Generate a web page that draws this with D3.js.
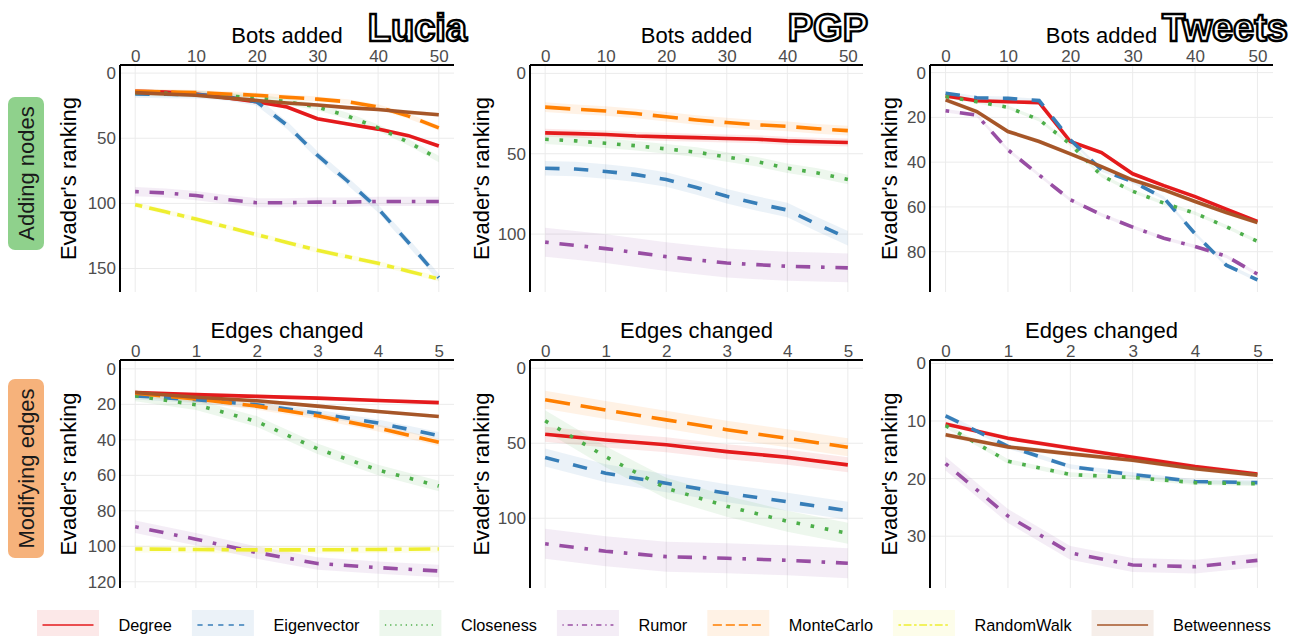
<!DOCTYPE html>
<html>
<head>
<meta charset="utf-8">
<script src="https://cdn.jsdelivr.net/npm/d3@7"></script>
<style>
  body { margin: 0; background: #fff; }
  svg { font-family: "Liberation Sans", Arial, sans-serif; }
</style>
</head>
<body>
<script>
// methods and colours (ggplot Set1 style)
var methods = ["Degree", "Eigenvector", "Closeness", "Rumor", "MonteCarlo", "RandomWalk", "Betweenness"];
var colors = ["#e41a1c", "#377eb8", "#4daf4a", "#984ea3", "#ff7f00", "#eeee30", "#a65628"];
// R line types: solid, dashed, dotted, dotdash, longdash, twodash, solid
var ltys = [[], [4, 4], [1, 3], [1, 3, 4, 3], [7, 3], [2, 2, 6, 2], []];
function dash(k, unit) {
  return ltys[k].length ? ltys[k].map(function(d) { return d * unit; }).join(",") : "none";
}

var botsAdded = [0, 5, 10, 15, 20, 25, 30, 35, 40, 45, 50];
var edgesChanged = [0, 1, 2, 3, 4, 5];

// Adding nodes
var luciaBots = {
  Degree:      [14, 14.5, 16, 19, 22, 26, 35, 39, 43, 48, 56],
  Eigenvector: [16, 16.3, 16.5, 18, 22, 40, 63, 83, 104, 130, 157],
  Closeness:   [15, 15.5, 16, 17.5, 19, 22, 26, 33, 42, 53, 66],
  Rumor:       [91, 92, 94, 97, 99.5, 99.5, 99, 99, 98.5, 98.5, 98.5],
  MonteCarlo:  [14, 14.5, 15, 16, 17, 18.5, 20, 22, 26, 33, 42],
  RandomWalk:  [101, 106.5, 112, 118, 124, 130, 136, 141, 146, 152, 158],
  Betweenness: [15, 16, 17, 19, 21, 23, 24.5, 26.5, 28, 30, 32]
};
var luciaBotsBand = { Degree: 1.5, Eigenvector: 3, Closeness: 2.5, Rumor: 3.5, MonteCarlo: 2, RandomWalk: 2, Betweenness: 1.5 };

var pgpBots = {
  Degree:      [37, 37.5, 38, 39, 39.5, 40, 40.5, 41, 42, 42.5, 43],
  Eigenvector: [59, 59.5, 61, 63, 66, 71, 76.5, 81, 85, 94, 102.5],
  Closeness:   [41, 42, 43.5, 45, 47, 49, 52, 55, 59, 62, 66],
  Rumor:       [105, 107, 109, 111.5, 114, 116, 118, 119, 120, 120.5, 121],
  MonteCarlo:  [21, 22.3, 23.4, 25, 27, 29, 30.6, 32, 33, 34.5, 35.6]
};
var pgpBotsBand = { Degree: 2.5, Eigenvector: 4.5, Closeness: 3, Rumor: 9, MonteCarlo: 3 };

var tweetsBots = {
  Degree:      [10.4, 12.6, 13, 13.4, 30.8, 35.7, 45.2, 50.5, 55.4, 61, 66.5],
  Eigenvector: [9.2, 11.2, 11.5, 12.5, 30, 43.5, 48.7, 56, 72, 86, 92.6],
  Closeness:   [10.7, 13, 15.5, 21, 32, 46, 53, 58.3, 62.8, 68.8, 75.4],
  Rumor:       [17, 19, 34.5, 45.7, 56.8, 63.5, 69, 74, 77.7, 82, 90],
  Betweenness: [12.2, 17.4, 26.3, 30.8, 36.3, 42, 48, 52.4, 57.6, 62.5, 67]
};
var tweetsBotsBand = { Degree: 0.8, Eigenvector: 0.8, Closeness: 0.8, Rumor: 0.8, Betweenness: 1 };

// Modifying edges
var luciaEdges = {
  Degree:      [13.3, 14.5, 15.5, 16.5, 17.8, 19],
  Eigenvector: [15.2, 17.4, 20.2, 25, 30.5, 37.6],
  Closeness:   [15.2, 20.2, 29.6, 45, 57, 66],
  Rumor:       [89, 96, 103.5, 109.7, 112, 113.9],
  MonteCarlo:  [13.7, 17, 21, 26.4, 33.3, 41.4],
  RandomWalk:  [101.5, 101.8, 102, 102, 101.8, 101.5],
  Betweenness: [13.3, 16, 18, 21, 24, 26.8]
};
var luciaEdgesBand = { Degree: 1, Eigenvector: 2, Closeness: 3, Rumor: 3.5, MonteCarlo: 2, RandomWalk: 2, Betweenness: 1 };

var pgpEdges = {
  Degree:      [44, 47.8, 51, 55.6, 59.3, 64.4],
  Eigenvector: [59.5, 70, 76.7, 83.3, 89, 95],
  Closeness:   [35, 59, 80, 92, 102, 110],
  Rumor:       [117, 122, 125.6, 126.7, 128, 130],
  MonteCarlo:  [21, 27.8, 34.4, 41, 46.7, 52.7]
};
var pgpEdgesBand = { Degree: 5, Eigenvector: 6, Closeness: 7, Rumor: 10, MonteCarlo: 6 };

var tweetsEdges = {
  Degree:      [10.5, 13, 14.7, 16.3, 17.9, 19.2],
  Eigenvector: [9.1, 14.4, 17.9, 19.3, 20.5, 20.7],
  Closeness:   [10.8, 17, 19.3, 19.8, 20.7, 20.9],
  Rumor:       [17.4, 26.5, 32.9, 35, 35.3, 34.2],
  Betweenness: [12.4, 14.5, 15.7, 16.8, 18.3, 19.4]
};
var tweetsEdgesBand = { Degree: 0.4, Eigenvector: 0.4, Closeness: 0.4, Rumor: 1.2, Betweenness: 0.4 };

var botTicks = [0, 10, 20, 30, 40, 50];
var edgeTicks = [0, 1, 2, 3, 4, 5];
var datasets = ["Lucia", "PGP", "Tweets"];
var rowLabels = ["Adding nodes", "Modifying edges"];
var rowTitles = ["Bots added", "Edges changed"];

var W = 1297, H = 636;
var colLeft = [120, 530, 930], colRight = [454, 863, 1273];
var rowTop = [65, 360], rowBottom = [292, 588];
var yTitleX = [76, 489, 897];
var titleEnd = [467, 868, 1288];

var panels = [
  { row: 0, col: 0, data: luciaBots, band: luciaBotsBand, yDomain: [-6.2, 168], yTicks: [0, 50, 100, 150] },
  { row: 0, col: 1, data: pgpBots, band: pgpBotsBand, yDomain: [-5.2, 136], yTicks: [0, 50, 100] },
  { row: 0, col: 2, data: tweetsBots, band: tweetsBotsBand, yDomain: [-3.4, 98], yTicks: [0, 20, 40, 60, 80] },
  { row: 1, col: 0, data: luciaEdges, band: luciaEdgesBand, yDomain: [-5, 123.5], yTicks: [0, 20, 40, 60, 80, 100, 120] },
  { row: 1, col: 1, data: pgpEdges, band: pgpEdgesBand, yDomain: [-5.5, 146.5], yTicks: [0, 50, 100] },
  { row: 1, col: 2, data: tweetsEdges, band: tweetsEdgesBand, yDomain: [-0.6, 39], yTicks: [0, 10, 20, 30] }
];

var svg = d3.select("body").append("svg").attr("width", W).attr("height", H);

panels.forEach(function(p) {
  var L = colLeft[p.col], R = colRight[p.col], T = rowTop[p.row], B = rowBottom[p.row];
  var xs = p.row == 0 ? botsAdded : edgesChanged;
  var xTicks = p.row == 0 ? botTicks : edgeTicks;
  var x = d3.scaleLinear()
    .domain(p.row == 0 ? [-2.5, 52.5] : [-0.25, 5.25])
    .range([L, R]);
  var y = d3.scaleLinear().domain(p.yDomain).range([T, B]);
  var g = svg.append("g");

  // grid
  g.selectAll(".gy").data(p.yTicks).enter().append("line")
    .attr("x1", L).attr("x2", R)
    .attr("y1", function(d) { return y(d); }).attr("y2", function(d) { return y(d); })
    .attr("stroke", "#ebebeb").attr("stroke-width", 1);
  g.selectAll(".gx").data(xTicks).enter().append("line")
    .attr("y1", T).attr("y2", B)
    .attr("x1", function(d) { return x(d); }).attr("x2", function(d) { return x(d); })
    .attr("stroke", "#ebebeb").attr("stroke-width", 1);

  // ribbons then lines
  var keys = methods.filter(function(m) { return p.data[m]; });
  keys.forEach(function(m) {
    var k = methods.indexOf(m);
    var vals = p.data[m], b = p.band[m];
    var area = d3.area()
      .x(function(d, i) { return x(xs[i]); })
      .y0(function(d) { return y(d - b); })
      .y1(function(d) { return y(d + b); });
    g.append("path").datum(vals).attr("d", area)
      .attr("fill", colors[k]).attr("fill-opacity", 0.1);
  });
  keys.forEach(function(m) {
    var k = methods.indexOf(m);
    var line = d3.line()
      .x(function(d, i) { return x(xs[i]); })
      .y(function(d) { return y(d); });
    g.append("path").datum(p.data[m]).attr("d", line)
      .attr("fill", "none").attr("stroke", colors[k])
      .attr("stroke-width", 3.6)
      .attr("stroke-dasharray", dash(k, 3.6));
  });

  // axes
  var xAxis = g.append("g").attr("transform", "translate(0," + T + ")")
    .call(d3.axisTop(x).tickValues(xTicks).tickFormat(d3.format("d"))
      .tickSize(0).tickSizeOuter(0).tickPadding(3.5));
  var yAxis = g.append("g").attr("transform", "translate(" + L + ",0)")
    .call(d3.axisLeft(y).tickValues(p.yTicks).tickFormat(d3.format("d"))
      .tickSize(0).tickSizeOuter(0).tickPadding(4));
  [xAxis, yAxis].forEach(function(a) {
    a.select(".domain").attr("stroke", "#000").attr("stroke-width", 2);
    a.selectAll("text").attr("font-size", 17).attr("fill", "#4d4d4d")
      .attr("font-family", "Liberation Sans, Arial, sans-serif");
  });
  xAxis.select(".domain").attr("d", "M" + L + ",0H" + R);
  yAxis.select(".domain").attr("d", "M0," + T + "V" + B);

  // axis titles
  g.append("text").attr("x", (L + R) / 2).attr("y", p.row == 0 ? 43 : 338)
    .attr("text-anchor", "middle").attr("font-size", 22).attr("fill", "#000")
    .text(rowTitles[p.row]);
  g.append("text")
    .attr("transform", "translate(" + yTitleX[p.col] + "," + (T + B) / 2 + ") rotate(-90)")
    .attr("text-anchor", "middle").attr("font-size", 22).attr("fill", "#000")
    .text("Evader's ranking");
});

// dataset titles
datasets.forEach(function(name, i) {
  svg.append("text").attr("x", titleEnd[i]).attr("y", 41)
    .attr("text-anchor", "end").attr("font-size", 38).attr("font-weight", "bold")
    .attr("fill", "#fff").attr("stroke", "#000").attr("stroke-width", 2.4)
    .attr("font-family", "Liberation Sans, Arial, sans-serif")
    .text(name);
});

// row strips
var stripColors = ["#8fd18c", "#f6b27b"];
var stripY = [[97, 250], [379, 558]];
rowLabels.forEach(function(lab, i) {
  svg.append("rect").attr("x", 8).attr("y", stripY[i][0])
    .attr("width", 36).attr("height", stripY[i][1] - stripY[i][0])
    .attr("rx", 7).attr("fill", stripColors[i]);
  svg.append("text")
    .attr("transform", "translate(34," + (stripY[i][0] + stripY[i][1]) / 2 + ") rotate(-90)")
    .attr("text-anchor", "middle").attr("font-size", 22).attr("fill", "#1a1a1a")
    .text(lab);
});

// legend
var lg = svg.append("g");
var lx = 37;
methods.forEach(function(m, k) {
  lg.append("rect").attr("x", lx).attr("y", 610).attr("width", 62).attr("height", 26)
    .attr("fill", colors[k]).attr("fill-opacity", 0.1);
  lg.append("line").attr("x1", lx + 5.5).attr("x2", lx + 56.5).attr("y1", 625).attr("y2", 625)
    .attr("stroke", colors[k]).attr("stroke-width", 1.3)
    .attr("stroke-dasharray", dash(k, 1.3));
  var t = lg.append("text").attr("x", lx + 81.5).attr("y", 631)
    .attr("font-size", 16.3).attr("fill", "#000").text(m);
  lx = lx + 81.5 + t.node().getComputedTextLength() + 20;
});
</script>
</body>
</html>
